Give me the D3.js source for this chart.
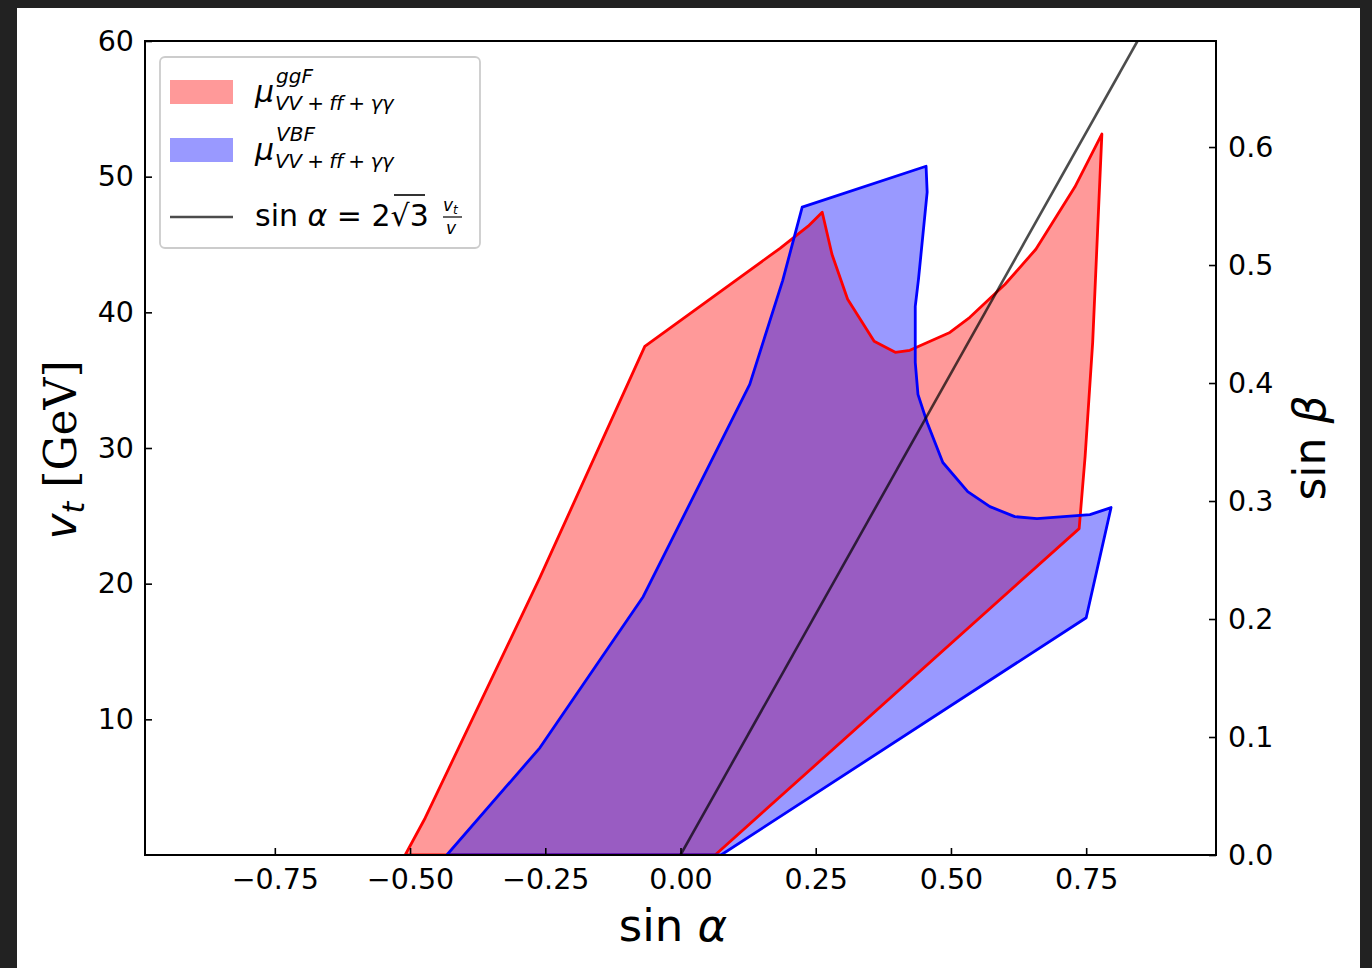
<!DOCTYPE html>
<meta charset="utf-8">
<title>vt vs sin alpha</title>
<style>
    body { margin: 0; background: #222; }
    svg { display: block; }
    text { font-family: "DejaVu Sans", sans-serif; fill: #000; }
    .math { font-style: italic; }
</style>
<svg width="1372" height="968"></svg>
<script src="https://d3js.org/d3.v7.min.js"></script>
<script>

    // data: [sin alpha, vt (GeV)]
    var ggfRegion = [
        [-0.509, 0], [-0.472, 2.73], [-0.260, 20.44], [-0.066, 37.49],
        [0.184, 44.72], [0.236, 46.35], [0.262, 47.38], [0.280, 44.28],
        [0.309, 40.96], [0.358, 37.86], [0.397, 37.05], [0.424, 37.2],
        [0.498, 38.52], [0.535, 39.63], [0.600, 42.07], [0.657, 44.65],
        [0.729, 49.23], [0.779, 53.14], [0.762, 37.79], [0.748, 29.37],
        [0.737, 24.06], [0.064, 0]
    ];
    var vbfRegion = [
        [-0.432, 0], [-0.260, 7.90], [-0.069, 19.04], [0.128, 34.69],
        [0.189, 42.36], [0.225, 47.75], [0.454, 50.77], [0.456, 48.86],
        [0.440, 42.44], [0.434, 40.44], [0.434, 36.31], [0.439, 33.95],
        [0.456, 31.88], [0.485, 28.93], [0.531, 26.79], [0.572, 25.68],
        [0.618, 24.94], [0.659, 24.80], [0.757, 25.09], [0.796, 25.61],
        [0.750, 17.49], [0.075, 0]
    ];
    var vev = 246; // GeV
    var relationVt = [0, 60];   // sin a = 2 sqrt(3) vt / v
    var xTicks = [-0.75, -0.5, -0.25, 0, 0.25, 0.5, 0.75];
    var yTicks = [10, 20, 30, 40, 50, 60];
    var betaTicks = [0, 0.1, 0.2, 0.3, 0.4, 0.5, 0.6];

    //begin: layout conf.
    var svg = d3.select("svg"),
        margin = {top: 41, right: 156, bottom: 113, left: 145},
        width = 1216 - margin.left,
        height = 855 - margin.top,
        tickFont = 28.5;
    //end: layout conf.

    // white figure background inside the dark frame
    svg.append("rect")
        .attr("x", 17).attr("y", 8)
        .attr("width", 1343).attr("height", 960)
        .attr("fill", "#fff");

    var x = d3.scaleLinear().domain([-0.99, 0.99]).range([0, width]),
        y = d3.scaleLinear().domain([0, 60]).range([height, 0]),
        yBeta = d3.scaleLinear().domain([0, 2 * Math.SQRT2 * 60 / vev]).range([height, 0]);

    var g = svg.append("g")
        .attr("transform", "translate(" + margin.left + "," + margin.top + ")");

    var area = d3.line()
        .x(function(d) { return x(d[0]); })
        .y(function(d) { return y(d[1]); });

    g.append("defs").append("clipPath").attr("id", "plotclip")
        .append("rect").attr("width", width).attr("height", height);

    var plot = g.append("g").attr("clip-path", "url(#plotclip)");

    // fills first, outlines on top
    plot.append("path")
        .attr("d", area(ggfRegion) + "Z")
        .attr("fill", "red").attr("fill-opacity", 0.4);
    plot.append("path")
        .attr("d", area(vbfRegion) + "Z")
        .attr("fill", "blue").attr("fill-opacity", 0.4);
    plot.append("path")
        .attr("d", area(ggfRegion) + "Z")
        .attr("fill", "none").attr("stroke", "red").attr("stroke-width", 2.8)
        .attr("stroke-linejoin", "round");
    plot.append("path")
        .attr("d", area(vbfRegion) + "Z")
        .attr("fill", "none").attr("stroke", "blue").attr("stroke-width", 2.8)
        .attr("stroke-linejoin", "round");

    var relation = relationVt.map(function(vt) { return [2 * Math.sqrt(3) * vt / vev, vt]; });
    plot.append("path")
        .attr("d", area(relation))
        .attr("fill", "none").attr("stroke", "#000").attr("stroke-opacity", 0.7)
        .attr("stroke-width", 2.6);

    // axes, ticks pointing inward
    var xAxis = g.append("g")
        .attr("transform", "translate(0," + height + ")")
        .call(d3.axisBottom(x).tickValues(xTicks).tickSizeInner(-7).tickSizeOuter(0).tickPadding(14)
            .tickFormat(function(d) { return d3.format(".2f")(d).replace("-", "\u2212"); }));
    var yAxis = g.append("g")
        .call(d3.axisLeft(y).tickValues(yTicks).tickSizeInner(-7).tickSizeOuter(0).tickPadding(11)
            .tickFormat(d3.format("d")));
    var bAxis = g.append("g")
        .attr("transform", "translate(" + width + ",0)")
        .call(d3.axisRight(yBeta).tickValues(betaTicks).tickSizeInner(-7).tickSizeOuter(0).tickPadding(12)
            .tickFormat(d3.format(".1f")));

    [xAxis, yAxis, bAxis].forEach(function(a) {
        a.select(".domain").remove();
        a.selectAll(".tick line").attr("stroke", "#000").attr("stroke-width", 1.6);
        a.selectAll(".tick text").attr("font-size", tickFont).attr("font-family", "DejaVu Sans");
    });

    g.append("rect")
        .attr("width", width).attr("height", height)
        .attr("fill", "none").attr("stroke", "#000").attr("stroke-width", 2);

    // axis labels
    var xl = svg.append("text")
        .attr("x", 673).attr("y", 941)
        .attr("text-anchor", "middle").attr("font-size", 45);
    xl.append("tspan").text("sin ");
    xl.append("tspan").attr("class", "math").text("\u03b1");

    var yl = svg.append("text")
        .attr("transform", "translate(76,450) rotate(-90)")
        .attr("text-anchor", "middle").attr("font-size", 44);
    yl.append("tspan").attr("class", "math").text("v");
    yl.append("tspan").attr("class", "math").attr("font-size", 30).attr("dy", 8).text("t");
    yl.append("tspan").attr("dy", -8).attr("font-family", "DejaVu Serif").text(" [GeV]");

    var bl = svg.append("text")
        .attr("transform", "translate(1325,448) rotate(-90)")
        .attr("text-anchor", "middle").attr("font-size", 44);
    bl.append("tspan").text("sin ");
    bl.append("tspan").attr("class", "math").text("\u03b2");

    // legend
    var legend = svg.append("g");
    legend.append("rect")
        .attr("x", 160).attr("y", 57).attr("width", 320).attr("height", 191)
        .attr("rx", 5).attr("fill", "#fff").attr("fill-opacity", 0.8)
        .attr("stroke", "#ccc").attr("stroke-width", 1.8);

    legend.append("rect").attr("x", 170).attr("y", 80).attr("width", 63).attr("height", 24)
        .attr("fill", "red").attr("fill-opacity", 0.4);
    legend.append("rect").attr("x", 170).attr("y", 138).attr("width", 63).attr("height", 24)
        .attr("fill", "blue").attr("fill-opacity", 0.4);
    legend.append("line").attr("x1", 170).attr("x2", 233).attr("y1", 217).attr("y2", 217)
        .attr("stroke", "#000").attr("stroke-opacity", 0.7).attr("stroke-width", 2.6);

    function muLabel(yBase, sup) {
        legend.append("text").attr("x", 255).attr("y", yBase).attr("font-size", 30)
            .attr("class", "math").text("\u03bc");
        legend.append("text").attr("x", 276).attr("y", yBase - 19).attr("font-size", 20)
            .attr("class", "math").text(sup);
        legend.append("text").attr("x", 275).attr("y", yBase + 8).attr("font-size", 20)
            .attr("class", "math").attr("letter-spacing", -0.5).text("VV + ff + \u03b3\u03b3");
    }
    muLabel(102, "ggF");
    muLabel(160, "VBF");

    var rel = legend.append("text").attr("x", 255).attr("y", 226).attr("font-size", 30);
    rel.append("tspan").text("sin ");
    rel.append("tspan").attr("class", "math").text("\u03b1");
    rel.append("tspan").text(" = 2\u221a3");
    legend.append("line").attr("x1", 394).attr("x2", 425).attr("y1", 195).attr("y2", 195)
        .attr("stroke", "#000").attr("stroke-width", 1.6);
    legend.append("text").attr("x", 443).attr("y", 211).attr("font-size", 17)
        .attr("class", "math").text("v");
    legend.append("text").attr("x", 453).attr("y", 214).attr("font-size", 12)
        .attr("class", "math").text("t");
    legend.append("line").attr("x1", 443).attr("x2", 462).attr("y1", 217).attr("y2", 217)
        .attr("stroke", "#000").attr("stroke-width", 1.2);
    legend.append("text").attr("x", 446).attr("y", 234).attr("font-size", 17)
        .attr("class", "math").text("v");

</script>
